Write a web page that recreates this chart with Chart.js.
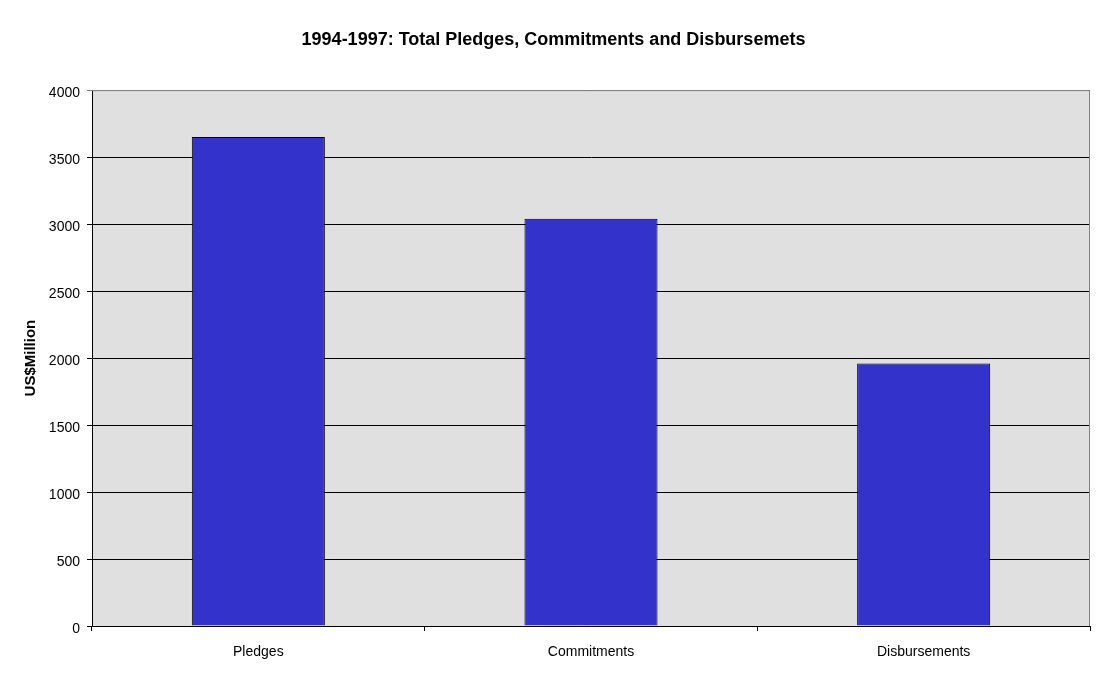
<!DOCTYPE html>
<html lang="en">
  <head>
    <meta charset="UTF-8">
    <title>1994-1997 Pledges</title>
    <script src="https://cdn.jsdelivr.net/npm/chart.js"></script>
    <style>
      html, body { margin: 0; padding: 0; background: #fff; }
      #wrap { width: 1107px; height: 680px; }
    </style>
  </head>
  <body>
    <div id="wrap"><canvas id="myChart"></canvas></div>
    <script>
      // datos
      const categorias = ['Pledges', 'Commitments', 'Disbursements'];
      const valores = [3650, 3040, 1960];
      const titulo = '1994-1997: Total Pledges, Commitments and Disbursemets';
      const tituloY = 'US$Million';

      const FONT = "'Liberation Sans', Arial, sans-serif";

      // fondo gris y borde del area de grafico
      const fondoPlot = {
        id: 'fondoPlot',
        beforeDraw(chart) {
          const { ctx, chartArea: a } = chart;
          ctx.save();
          ctx.fillStyle = '#e0e0e0';
          ctx.fillRect(a.left, a.top, a.right - a.left, a.bottom - a.top);
          ctx.restore();
        },
        afterDatasetsDraw(chart) {
          const { ctx, chartArea: a } = chart;
          ctx.save();
          ctx.strokeStyle = '#808080';
          ctx.lineWidth = 1;
          ctx.beginPath();
          ctx.moveTo(a.left, a.top + 0.5);
          ctx.lineTo(a.right - 0.5, a.top + 0.5);
          ctx.lineTo(a.right - 0.5, a.bottom);
          ctx.stroke();
          ctx.restore();
        }
      };

      const ctx = document.getElementById('myChart');
      let myChart = new Chart(ctx, {
        type: 'bar',
        data: {
          labels: categorias,
          datasets: [{
            data: valores,
            backgroundColor: '#3333cc',
            borderColor: '#000',
            borderWidth: 1,
            categoryPercentage: 1,
            barPercentage: 0.4
          }]
        },
        options: {
          responsive: true,
          maintainAspectRatio: false,
          animation: false,
          layout: { padding: 0 },
          plugins: {
            legend: { display: false },
            tooltip: { enabled: false },
            title: {
              display: true,
              text: titulo,
              color: '#000',
              font: { family: FONT, size: 18, weight: 'bold' },
              padding: { top: 29, bottom: 39.5 }
            }
          },
          scales: {
            x: {
              grid: {
                drawOnChartArea: false,
                drawTicks: true,
                tickLength: 5,
                color: '#000',
                offset: true
              },
              border: { color: '#000', width: 1 },
              ticks: {
                color: '#000',
                padding: 13,
                maxRotation: 0,
                font: { family: FONT, size: 14 }
              },
              afterFit(scale) { scale.height = 54; }
            },
            y: {
              min: 0,
              max: 4000,
              grid: {
                color: (c) => (c.tick && c.tick.value === 4000 ? '#808080' : '#000'),
                tickLength: 5,
                lineWidth: 1
              },
              border: { color: '#000', width: 1 },
              ticks: {
                stepSize: 500,
                color: '#000',
                padding: 7,
                labelOffset: 3,
                font: { family: FONT, size: 14 },
                callback: (v) => String(v)
              },
              title: {
                display: true,
                text: tituloY,
                color: '#000',
                font: { family: FONT, size: 15, weight: 'bold' },
                padding: { top: 22, bottom: 0 }
              },
              afterFit(scale) { scale.width = 92; }
            },
            // eje vacio a la derecha, solo para dejar el margen
            margen: {
              position: 'right',
              display: true,
              grid: { display: false },
              border: { display: false },
              ticks: { display: false },
              afterFit(scale) { scale.width = 17; }
            }
          }
        },
        plugins: [fondoPlot]
      });
    </script>
  </body>
</html>
